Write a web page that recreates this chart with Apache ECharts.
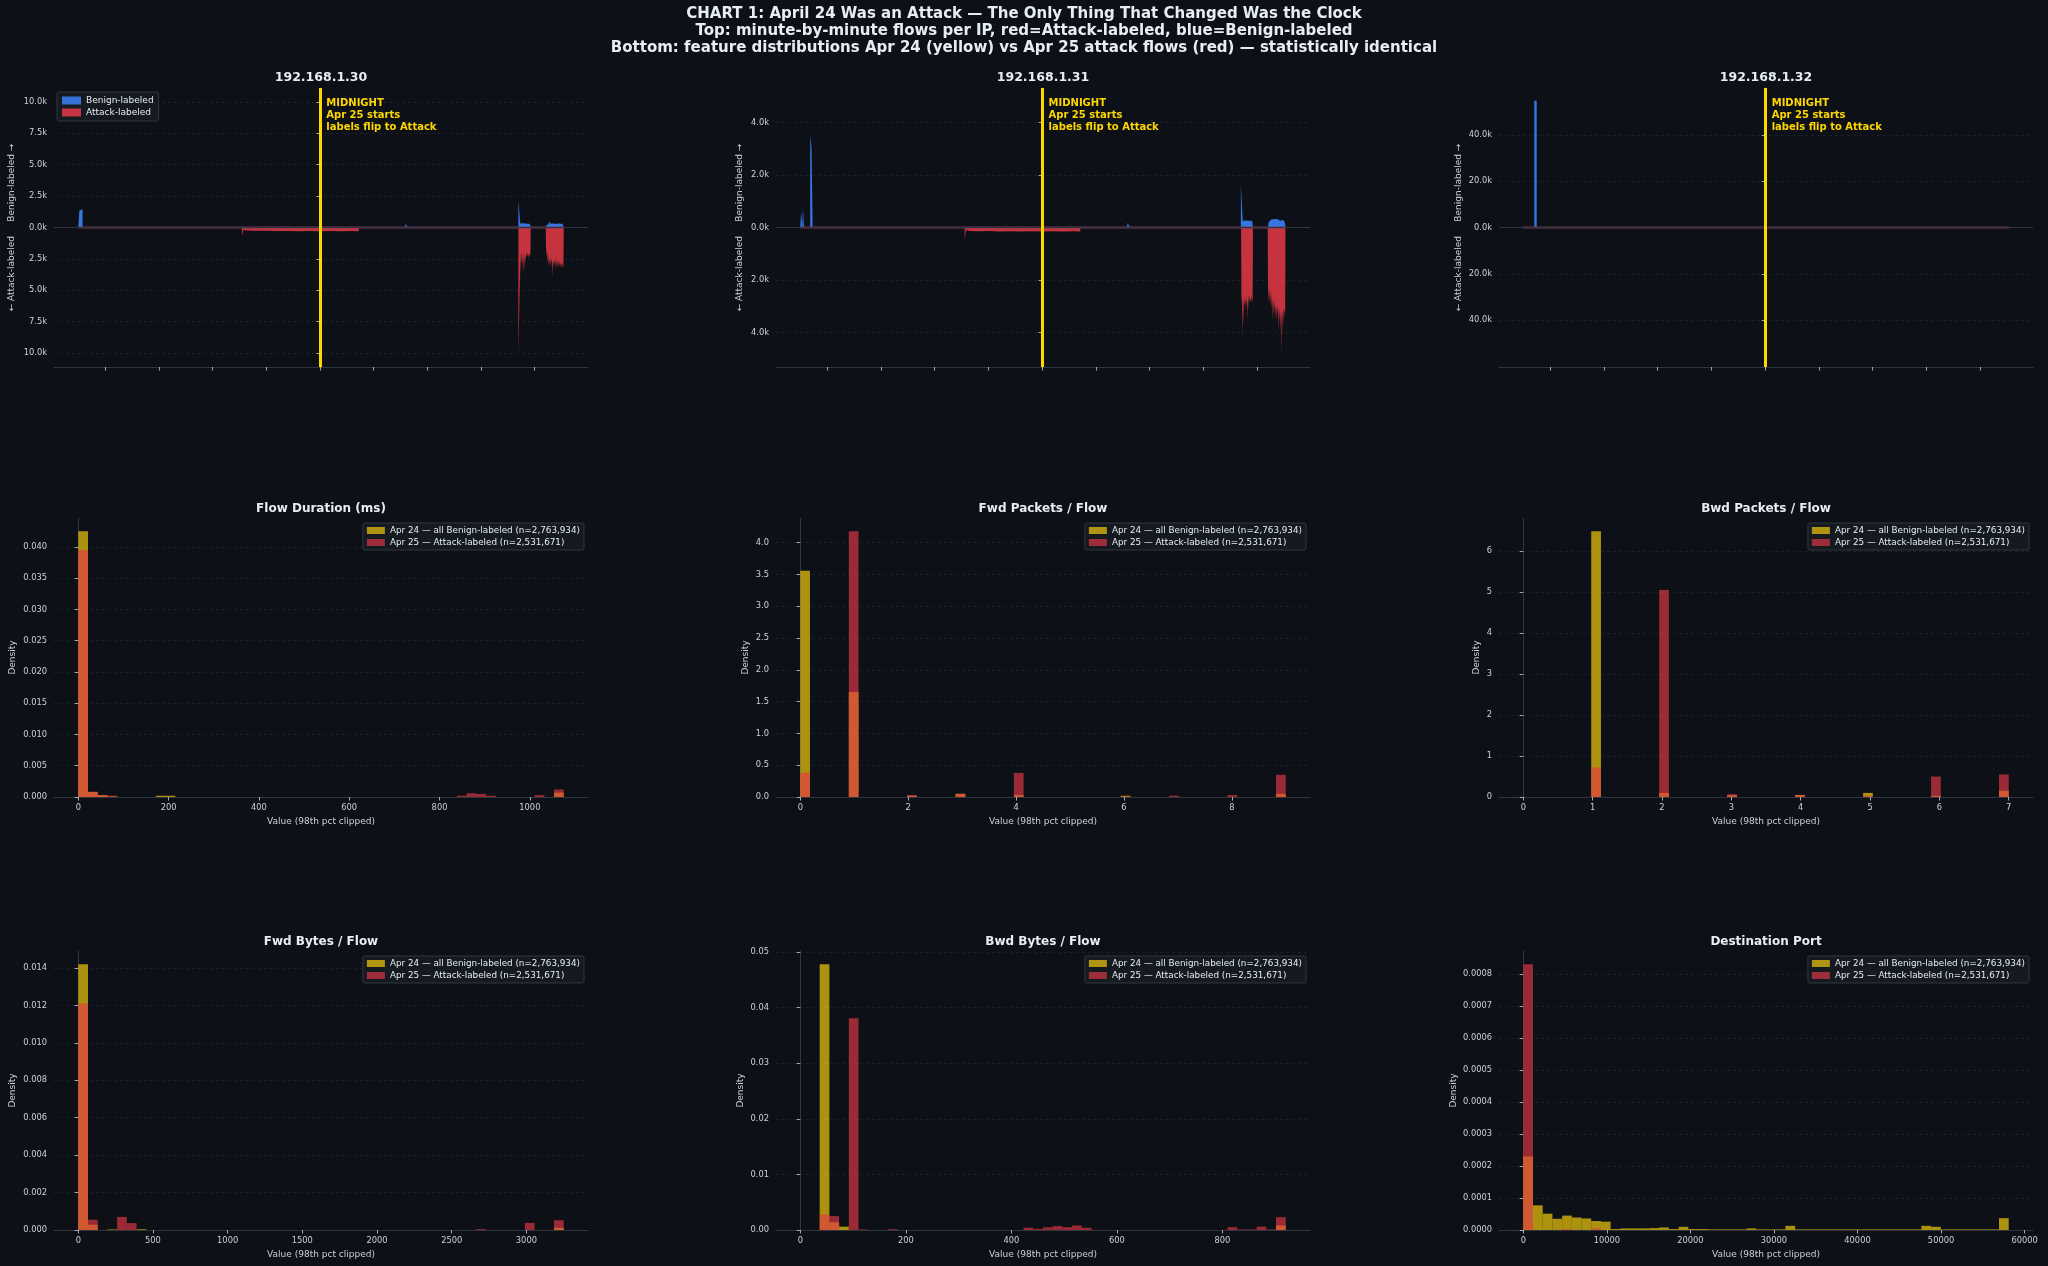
<!DOCTYPE html>
<html><head><meta charset="utf-8">
<script src="https://cdn.jsdelivr.net/npm/echarts@6/dist/echarts.min.js"></script>
<style>html,body{margin:0;padding:0;background:#0d1117;}#c{width:2048px;height:1266px;}</style>
</head><body><div id="c"></div>
<script>
// ---------------- DATA ----------------
const MAIN_TITLE = [
  'CHART 1: April 24 Was an Attack \u2014 The Only Thing That Changed Was the Clock',
  'Top: minute-by-minute flows per IP, red=Attack-labeled, blue=Benign-labeled',
  'Bottom: feature distributions Apr 24 (yellow) vs Apr 25 attack flows (red) \u2014 statistically identical'
];
const IP_NAMES = ['192.168.1.30', '192.168.1.31', '192.168.1.32'];
const MIDNIGHT_H = 0; // hours relative to midnight Apr 24/25
const MIDNIGHT_TEXT = 'MIDNIGHT\nApr 25 starts\nlabels flip to Attack';
const X_TICKS_HOURS = [-8, -6, -4, -2, 0, 2, 4, 6, 8];
const TOP_Y_NAME = '\u2190 Attack-labeled     Benign-labeled \u2192';

// [hour, flows per minute]
const BENIGN_30 = [[-9.0,0],[-8.96,0],[-8.96,1340],[-8.9,1340],[-8.9,1450],[-8.84,1450],[-8.84,0],
  [3.17,0],[3.2,320],[3.24,220],[3.27,0],
  [7.40,0],[7.40,2180],[7.47,2180],[7.47,320],[7.52,260],[7.58,330],[7.64,280],[7.7,300],[7.76,260],[7.82,300],[7.86,280],[7.87,0],
  [8.42,0],[8.44,180],[8.48,300],[8.52,260],[8.56,480],[8.6,300],[8.66,250],[8.72,320],[8.8,280],[8.88,320],[8.96,300],[9.04,300],[9.08,280],[9.09,0]];
const ATTACK_30 = [[-9.0,0],[-2.9,0],[-2.89,700],[-2.85,700],[-2.85,200],[-2.7,240],[-2.4,260],[-2.0,250],[-1.6,280],[-1.2,270],[-0.8,290],[-0.4,280],[0,290],[0.4,270],[0.8,290],[1.2,280],[1.45,290],[1.46,0],
  [7.40,0],[7.40,10100],[7.47,10100],[7.47,2600],[7.48,4300],[7.49,2000],[7.5,3000],[7.52,1800],[7.53,2900],[7.55,2200],[7.56,3400],[7.58,2000],[7.59,3700],[7.61,2500],[7.62,3500],[7.64,1900],[7.65,3000],[7.67,2200],[7.68,2600],[7.7,1800],[7.71,2400],[7.73,2000],[7.74,2300],[7.76,2100],[7.77,2500],[7.79,2200],[7.8,2000],[7.82,2300],[7.83,2200],[7.85,2100],[7.86,0],
  [8.42,0],[8.43,1600],[8.45,2300],[8.47,1900],[8.49,2800],[8.51,2200],[8.53,3100],[8.55,2500],[8.57,2800],[8.59,3100],[8.61,2400],[8.63,2900],[8.65,2300],[8.66,3950],[8.68,3950],[8.69,2600],[8.71,3200],[8.73,2500],[8.75,3000],[8.77,2400],[8.79,3300],[8.81,2600],[8.83,3150],[8.85,2500],[8.87,3300],[8.89,2700],[8.91,3100],[8.93,2600],[8.95,3300],[8.97,2800],[8.99,3250],[9.01,2700],[9.03,3200],[9.05,2800],[9.08,3300],[9.09,0]];

const BENIGN_31 = [[-9.0,0],[-8.97,0],[-8.97,610],[-8.92,610],[-8.92,0],[-8.9,0],[-8.9,730],[-8.86,730],[-8.86,0],
  [-8.63,0],[-8.63,3520],[-8.58,3520],[-8.58,3010],[-8.54,3010],[-8.54,0],
  [-2.84,0],[-2.83,50],[-2.81,0],
  [3.15,0],[3.19,170],[3.23,120],[3.26,0],
  [7.40,0],[7.40,1650],[7.47,1650],[7.47,250],[7.52,220],[7.58,270],[7.64,230],[7.7,260],[7.76,220],[7.82,260],[7.84,240],[7.85,0],
  [8.41,0],[8.43,200],[8.48,250],[8.54,300],[8.6,270],[8.66,320],[8.72,280],[8.78,310],[8.86,260],[8.94,290],[9.02,250],[9.06,250],[9.07,0]];
const ATTACK_31 = [[-9.0,0],[-2.88,0],[-2.88,450],[-2.84,450],[-2.83,100],[-2.7,130],[-2.4,140],[-2.0,130],[-1.6,150],[-1.2,140],[-0.8,150],[-0.4,140],[0,150],[0.4,140],[0.8,150],[1.2,140],[1.42,150],[1.43,0],
  [7.41,0],[7.42,2600],[7.44,2900],[7.45,4270],[7.47,4270],[7.48,2600],[7.49,3000],[7.51,3700],[7.52,2700],[7.54,3000],[7.56,2600],[7.57,3200],[7.59,2700],[7.61,3000],[7.62,2500],[7.64,3500],[7.66,2800],[7.67,3100],[7.69,2600],[7.71,2900],[7.72,2500],[7.74,2800],[7.76,2700],[7.78,2900],[7.8,2600],[7.82,2800],[7.84,2700],[7.85,0],
  [8.4,0],[8.41,2200],[8.43,2900],[8.45,2300],[8.47,2800],[8.49,2400],[8.51,3000],[8.53,2500],[8.55,3100],[8.57,2700],[8.59,3570],[8.61,2800],[8.63,3300],[8.65,2700],[8.67,3500],[8.69,2900],[8.71,3600],[8.73,3000],[8.75,3300],[8.77,2900],[8.79,4000],[8.81,3100],[8.83,3600],[8.85,3000],[8.87,4000],[8.89,3200],[8.91,3500],[8.92,4830],[8.94,4830],[8.95,3100],[8.97,3800],[8.99,3000],[9.01,3500],[9.03,3100],[9.05,3300],[9.06,0]];

const BENIGN_32 = [[-9.0,0],[-8.59,0],[-8.59,54700],[-8.5,54700],[-8.5,0],[9.06,0]];
const ATTACK_32 = [[-9.0,0],[9.06,0]];

const Y_TICKS_30 = [-10000,-7500,-5000,-2500,0,2500,5000,7500,10000];
const Y_TICKS_31 = [-4000,-2000,0,2000,4000];
const Y_TICKS_32 = [-40000,-20000,0,20000,40000];

// Histograms: densities per bin (50 equal bins over [lo, hi])
const HIST_TITLES = ['Flow Duration (ms)', 'Fwd Packets / Flow', 'Bwd Packets / Flow', 'Fwd Bytes / Flow', 'Bwd Bytes / Flow', 'Destination Port'];
const APR24_NAME = 'Apr 24 \u2014 all Benign-labeled (n=2,763,934)';
const APR25_NAME = 'Apr 25 \u2014 Attack-labeled (n=2,531,671)';
const X_NAME = 'Value (98th pct clipped)';
const Y_NAME = 'Density';

const FD_RANGE = [0, 1075];
const FD_APR24 = [0.0425,0.0008,0.0003,0.0001,0,0,0,0,0.0002,0.0002,
  0,0,0,0,0,0,0,0,0,0, 0,0,0,0,0,0,0,0,0,0, 0,0,0,0,0,0,0,0,0,0,
  0,0,0,0,0,0,0,0,0,0.0007];
const FD_APR25 = [0.0395,0.00085,0.0003,0.0002,0,0,0,0,0,0,
  0,0,0,0,0,0,0,0,0,0, 0,0,0,0,0,0,0,0,0,0, 0,0,0,0,0,0,0,0,0,0.0002,
  0.0006,0.0005,0.0002,0,0,0,0,0.0003,0,0.0012];
const FD_XTICKS = [0,200,400,600,800,1000];
const FD_YTICKS = [0,0.005,0.01,0.015,0.02,0.025,0.03,0.035,0.04];

const FP_RANGE = [0, 9];
const FP_APR24 = [3.56,0,0,0,0,1.65,0,0,0,0, 0,0.02,0,0,0,0,0.05,0,0,0,
  0,0,0.03,0,0,0,0,0,0,0, 0,0,0,0.02,0,0,0,0,0,0, 0,0,0,0,0,0,0,0,0,0.05];
const FP_APR25 = [0.38,0,0,0,0,4.18,0,0,0,0, 0,0.03,0,0,0,0,0.05,0,0,0,
  0,0,0.38,0,0,0,0,0,0,0, 0,0,0,0.01,0,0,0,0,0.02,0, 0,0,0,0,0.03,0,0,0,0,0.35];
const FP_XTICKS = [0,2,4,6,8];
const FP_YTICKS = [0,0.5,1,1.5,2,2.5,3,3.5,4];

const BP_RANGE = [0, 7];
const BP_APR24 = [0,0,0,0,0,0,0,6.48,0,0, 0,0,0,0,0.1,0,0,0,0,0,
  0,0.04,0,0,0,0,0,0,0.05,0, 0,0,0,0,0,0.1,0,0,0,0, 0,0,0.03,0,0,0,0,0,0,0.15];
const BP_APR25 = [0,0,0,0,0,0,0,0.72,0,0, 0,0,0,0,5.05,0,0,0,0,0,
  0,0.07,0,0,0,0,0,0,0.05,0, 0,0,0,0,0,0.03,0,0,0,0, 0,0,0.5,0,0,0,0,0,0,0.55];
const BP_XTICKS = [0,1,2,3,4,5,6,7];
const BP_YTICKS = [0,1,2,3,4,5,6];

const FB_RANGE = [0, 3250];
const FB_APR24 = [0.0142,0.00028,0,0.00003,0,0,0.00004,0,0,0,
  0,0,0,0,0,0,0,0,0,0, 0,0,0,0,0,0,0,0,0,0, 0,0,0,0,0,0,0,0,0,0,
  0,0,0,0,0,0,0,0,0,0.00012];
const FB_APR25 = [0.0121,0.00055,0,0,0.0007,0.00037,0,0,0,0,
  0,0,0,0,0,0,0,0,0,0, 0,0,0,0,0,0,0,0,0,0, 0,0,0,0,0,0,0,0,0,0,
  0,0.00005,0,0,0,0,0.00038,0,0,0.00052];
const FB_XTICKS = [0,500,1000,1500,2000,2500,3000];
const FB_YTICKS = [0,0.002,0.004,0.006,0.008,0.01,0.012,0.014];

const BB_RANGE = [0, 920];
const BB_APR24 = [0,0,0.0478,0.0014,0.0006,0,0,0,0,0,
  0,0,0,0,0,0,0,0,0,0, 0,0,0,0,0,0,0,0,0,0, 0,0,0,0,0,0,0,0,0,0,
  0,0,0,0,0,0,0,0,0,0.0008];
const BB_APR25 = [0,0,0.0028,0.0025,0,0.0381,0.0001,0,0,0.00015,
  0,0,0,0,0,0,0,0,0,0, 0,0,0,0.0004,0.0002,0.0005,0.0007,0.0005,0.0008,0.0004,
  0,0,0,0,0,0,0,0,0,0, 0,0,0,0,0.0005,0.0001,0.0001,0.0006,0.0001,0.0023];
const BB_XTICKS = [0,200,400,600,800];
const BB_YTICKS = [0,0.01,0.02,0.03,0.04,0.05];

const DP_RANGE = [0, 58100];
const DP_APR24 = [0.00023,0.000077,0.000051,0.000035,0.000045,0.000039,0.000036,0.000028,0.000026,0.000003,
  0.000005,0.000005,0.000005,0.000006,0.000008,0.000003,0.00001,0.000003,0.000003,0.000002,
  0.000002,0.000002,0.000002,0.000005,0.000002,0.000002,0.000002,0.000013,0.000002,0.000002,
  0.000002,0.000002,0.000002,0.000002,0.000002,0.000002,0.000002,0.000002,0.000002,0.000002,
  0.000002,0.000013,0.00001,0.000002,0.000002,0.000002,0.000002,0.000002,0.000002,0.000037];
const DP_APR25 = [0.00083,0,0,0,0.000003,0,0,0.000005,0,0,
  0,0,0,0,0,0,0,0,0,0, 0,0,0,0,0,0,0,0,0,0, 0,0,0,0,0,0,0,0,0,0,
  0,0,0,0,0,0,0,0,0,0];
const DP_XTICKS = [0,10000,20000,30000,40000,50000,60000];
const DP_YTICKS = [0,0.0001,0.0002,0.0003,0.0004,0.0005,0.0006,0.0007,0.0008];

// ---------------- STYLE / LAYOUT ----------------
const FONT = 'DejaVu Sans';
const BG = '#0d1117', FG = '#e6edf3', TICK = '#c9d1d9', SPINE = '#30363d', GRIDC = '#20252d';
const TOP_BLUE = '#3b82f6', TOP_RED = '#e63946', BAND = '#76385a', GOLD = '#ffd700';
const HIST_YEL = '#ffd60a', HIST_RED = '#e63946', YEL_OP = 0.66, RED_OP = 0.65;
const COL_LEFT = [54, 776, 1499], GRID_W = 534, ROW_TOP = [88, 518, 951], GRID_H = 279;
const TOP_NAMEGAP = [37.5, 31.5, 35.5];
const HIST_NAMEGAP = [37, 26, 18, 37, 30.5, 41];

const option = {
  backgroundColor: BG, animation: false,
  textStyle: {fontFamily: FONT},
  grid: [], xAxis: [], yAxis: [], series: [], legend: [], graphic: []
};

option.graphic.push({type: 'text', x: 1024, y: 5.5, silent: true,
  style: {text: MAIN_TITLE.join('\n'), align: 'center', verticalAlign: 'top', fill: FG,
    fontFamily: FONT, fontWeight: 'bold', fontSize: 15, lineHeight: 17}});

function yAxisBase(gi, min, max, ticks, fmt, name, gap) {
  return {gridIndex: gi, type: 'value', min: min, max: max,
    axisLine: {show: true, lineStyle: {color: SPINE, width: 1}},
    axisTick: {show: true, customValues: ticks, length: 3.5, lineStyle: {color: TICK, width: 0.8}},
    axisLabel: {customValues: ticks, formatter: fmt, color: TICK, fontSize: 8.3, margin: 7, fontFamily: FONT},
    splitLine: {show: true, lineStyle: {color: GRIDC, type: [3, 3], width: 0.8}},
    name: name, nameLocation: 'middle', nameGap: gap,
    nameTextStyle: {color: TICK, fontSize: 9, fontFamily: FONT}};
}

// ---------------- TOP ROW ----------------
const IP_DATA = [[BENIGN_30, ATTACK_30, Y_TICKS_30], [BENIGN_31, ATTACK_31, Y_TICKS_31], [BENIGN_32, ATTACK_32, Y_TICKS_32]];
IP_DATA.forEach(function (d, i) {
  const benign = d[0], attack = d[1], yTicks = d[2];
  const gi = i;
  const all = benign.concat(attack);
  const ts = all.map(p => p[0]);
  const tmin = Math.min.apply(null, ts), tmax = Math.max.apply(null, ts), span = tmax - tmin;
  const maxAbs = Math.max.apply(null, all.map(p => Math.abs(p[1])));
  const ymax = maxAbs * 1.1;
  option.grid.push({left: COL_LEFT[i], top: ROW_TOP[0], width: GRID_W, height: GRID_H});
  option.xAxis.push({gridIndex: gi, type: 'value', min: tmin - 0.05 * span, max: tmax + 0.05 * span,
    axisLine: {show: true, onZero: false, lineStyle: {color: SPINE}},
    axisTick: {show: true, customValues: X_TICKS_HOURS, length: 3.5, lineStyle: {color: TICK, width: 0.8}},
    axisLabel: {show: false}, splitLine: {show: false}});
  option.yAxis.push(yAxisBase(gi, -ymax, ymax, yTicks,
    v => (Math.abs(v) / 1000).toFixed(1) + 'k', TOP_Y_NAME, TOP_NAMEGAP[i]));
  option.series.push({type: 'line', name: 'Attack-labeled', xAxisIndex: gi, yAxisIndex: gi, z: 2, silent: true,
    data: attack.map(p => [p[0], -p[1]]), symbol: 'none', lineStyle: {width: 0},
    itemStyle: {color: TOP_RED}, areaStyle: {color: TOP_RED, opacity: 0.85},
    markLine: {silent: true, symbol: ['none', 'none'], label: {show: false},
      lineStyle: {color: SPINE, width: 1, type: 'solid'}, data: [{yAxis: 0}]}});
  option.series.push({type: 'line', name: 'Benign-labeled', xAxisIndex: gi, yAxisIndex: gi, z: 2, silent: true,
    data: benign, symbol: 'none', lineStyle: {width: 0},
    itemStyle: {color: TOP_BLUE}, areaStyle: {color: TOP_BLUE, opacity: 0.9}});
  option.series.push({type: 'line', name: '_zero_band_' + i, xAxisIndex: gi, yAxisIndex: gi, z: 3, silent: true,
    data: [[tmin, 0], [tmax, 0]], symbol: 'none', lineStyle: {color: BAND, width: 2.2},
    markLine: {silent: true, symbol: ['none', 'none'], label: {show: false},
      lineStyle: {color: GOLD, width: 3, type: 'solid'}, data: [{xAxis: MIDNIGHT_H}]},
    markPoint: {silent: true, symbol: 'rect', symbolSize: 1, itemStyle: {color: 'rgba(0,0,0,0)'},
      data: [{coord: [MIDNIGHT_H, ymax * 0.928]}],
      label: {show: true, position: [7, 0], align: 'left', verticalAlign: 'top', formatter: MIDNIGHT_TEXT,
        color: GOLD, fontWeight: 'bold', fontSize: 10, lineHeight: 12, fontFamily: FONT}}});
  option.graphic.push({type: 'text', x: COL_LEFT[i] + GRID_W / 2, y: 77.5, silent: true,
    style: {text: IP_NAMES[i], align: 'center', verticalAlign: 'middle', fill: FG,
      fontFamily: FONT, fontWeight: 'bold', fontSize: 12.5}});
});
option.legend.push({left: 57, top: 92, orient: 'vertical', icon: 'rect', itemWidth: 19, itemHeight: 8, itemGap: 3,
  padding: [4, 5, 4, 5], backgroundColor: '#151a21', borderColor: SPINE, borderWidth: 1, borderRadius: 2,
  textStyle: {color: FG, fontSize: 9, fontFamily: FONT}, selectedMode: false,
  data: [{name: 'Benign-labeled', itemStyle: {color: TOP_BLUE, opacity: 0.85}},
         {name: 'Attack-labeled', itemStyle: {color: TOP_RED, opacity: 0.85}}]});

// ---------------- HISTOGRAMS ----------------
const HISTS = [
  [FD_RANGE, FD_APR24, FD_APR25, FD_XTICKS, FD_YTICKS],
  [FP_RANGE, FP_APR24, FP_APR25, FP_XTICKS, FP_YTICKS],
  [BP_RANGE, BP_APR24, BP_APR25, BP_XTICKS, BP_YTICKS],
  [FB_RANGE, FB_APR24, FB_APR25, FB_XTICKS, FB_YTICKS],
  [BB_RANGE, BB_APR24, BB_APR25, BB_XTICKS, BB_YTICKS],
  [DP_RANGE, DP_APR24, DP_APR25, DP_XTICKS, DP_YTICKS]
];
function histRender(color, op) {
  return function (params, api) {
    const y = api.value(2);
    if (!y) return;
    const p0 = api.coord([api.value(0), y]);
    const p1 = api.coord([api.value(1), 0]);
    return {type: 'rect', shape: {x: p0[0], y: p0[1], width: p1[0] - p0[0], height: p1[1] - p0[1]},
      style: {fill: color, opacity: op}};
  };
}
function binData(range, vals) {
  const w = (range[1] - range[0]) / vals.length;
  return vals.map((v, i) => [range[0] + i * w, range[0] + (i + 1) * w, v]);
}
HISTS.forEach(function (h, k) {
  const range = h[0], a24 = h[1], a25 = h[2], xt = h[3], yt = h[4];
  const row = 1 + Math.floor(k / 3), col = k % 3, gi = 3 + k;
  const span = range[1] - range[0];
  const ymax = 1.05 * Math.max(Math.max.apply(null, a24), Math.max.apply(null, a25));
  const step = yt[1] - yt[0];
  const dec = Math.max(0, -Math.floor(Math.log10(step) + 1e-9));
  option.grid.push({left: COL_LEFT[col], top: ROW_TOP[row], width: GRID_W, height: GRID_H});
  option.xAxis.push({gridIndex: gi, type: 'value', min: range[0] - 0.05 * span, max: range[1] + 0.05 * span,
    axisLine: {show: true, onZero: false, lineStyle: {color: SPINE}},
    axisTick: {show: true, customValues: xt, length: 3.5, lineStyle: {color: TICK, width: 0.8}},
    axisLabel: {customValues: xt, formatter: v => String(v), color: TICK, fontSize: 8.3, margin: 7, fontFamily: FONT},
    splitLine: {show: false},
    name: X_NAME, nameLocation: 'middle', nameGap: 20, nameTextStyle: {color: TICK, fontSize: 9, fontFamily: FONT}});
  option.yAxis.push(yAxisBase(gi, 0, ymax, yt, v => v.toFixed(dec), Y_NAME, HIST_NAMEGAP[k]));
  option.series.push({type: 'custom', name: APR24_NAME, xAxisIndex: gi, yAxisIndex: gi, z: 2, silent: true,
    itemStyle: {color: HIST_YEL}, encode: {x: [0, 1], y: 2},
    renderItem: histRender(HIST_YEL, YEL_OP), data: binData(range, a24)});
  option.series.push({type: 'custom', name: APR25_NAME, xAxisIndex: gi, yAxisIndex: gi, z: 3, silent: true,
    itemStyle: {color: HIST_RED}, encode: {x: [0, 1], y: 2},
    renderItem: histRender(HIST_RED, RED_OP), data: binData(range, a25)});
  option.graphic.push({type: 'text', x: COL_LEFT[col] + GRID_W / 2, y: ROW_TOP[row] - 9.5, silent: true,
    style: {text: HIST_TITLES[k], align: 'center', verticalAlign: 'middle', fill: FG,
      fontFamily: FONT, fontWeight: 'bold', fontSize: 12}});
  option.legend.push({right: 2048 - (COL_LEFT[col] + GRID_W - 4), top: ROW_TOP[row] + 5, orient: 'vertical',
    icon: 'rect', itemWidth: 18, itemHeight: 7, itemGap: 3, padding: [3, 4, 3, 4],
    backgroundColor: '#151a21', borderColor: SPINE, borderWidth: 1, borderRadius: 2, selectedMode: false,
    textStyle: {color: FG, fontSize: 8.8, fontFamily: FONT},
    data: [{name: APR24_NAME, itemStyle: {color: HIST_YEL, opacity: YEL_OP}},
           {name: APR25_NAME, itemStyle: {color: HIST_RED, opacity: RED_OP}}]});
});

const chart = echarts.init(document.getElementById('c'), null, {renderer: 'canvas'});
chart.setOption(option);
</script></body></html>
